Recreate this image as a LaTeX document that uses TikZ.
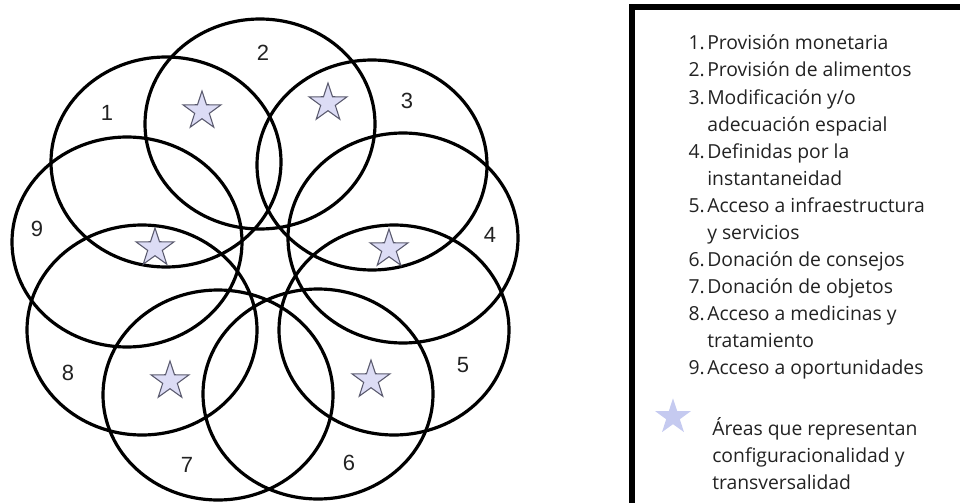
\documentclass[tikz,border=0pt]{standalone}
\usepackage{fontspec}
\setmainfont{Open Sans}
\newfontfamily\numfont{Liberation Sans}
\usetikzlibrary{shapes.geometric}
\definecolor{starfill}{HTML}{DCDCF5}
\definecolor{starline}{HTML}{5A5A6E}
\definecolor{keystar}{HTML}{C5CAF0}
\definecolor{ink}{HTML}{222222}
\begin{document}
\begin{tikzpicture}[
  x=0.75pt,y=-0.75pt,
  ring/.style={ellipse,draw,line width=2.4pt,minimum width=172.5pt,minimum height=157.5pt,inner sep=0pt},
  num/.style={font=\numfont\fontsize{16.5}{19}\selectfont,text=ink,inner sep=0pt},
  astar/.style={star,star points=5,star point ratio=2.6,minimum size=30pt,inner sep=0pt,
    fill=starfill,draw=starline,line width=0.8pt},
  keyno/.style={anchor=base east,font=\fontsize{14.5}{17}\selectfont,text=ink,inner sep=0pt},
  keytext/.style={anchor=base west,font=\fontsize{14.5}{17}\selectfont,text=ink,inner sep=0pt}
]
  \useasboundingbox (0,0) rectangle (960,503);
  % the nine rings
  \node[ring] (c1) at (166,162) {};
  \node[ring] (c2) at (260,124) {};
  \node[ring] (c3) at (372,165) {};
  \node[ring] (c4) at (403,238) {};
  \node[ring] (c5) at (394,330) {};
  \node[ring] (c6) at (318,394) {};
  \node[ring] (c7) at (218,395) {};
  \node[ring] (c8) at (142,330) {};
  \node[ring] (c9) at (127,242) {};
  % ring numbers
  \node[num] (n1) at (107,113) {1};
  \node[num] (n2) at (263,53)  {2};
  \node[num] (n3) at (407,101) {3};
  \node[num] (n4) at (490,235) {4};
  \node[num] (n5) at (463,365) {5};
  \node[num] (n6) at (349,463) {6};
  \node[num] (n7) at (187,465) {7};
  \node[num] (n8) at (68,373)  {8};
  \node[num] (n9) at (37,229)  {9};
  % stars
  \node[astar] (s1) at (202,111) {};
  \node[astar] (s2) at (328,103) {};
  \node[astar] (s3) at (155,248) {};
  \node[astar] (s4) at (389,249) {};
  \node[astar] (s5) at (170,381) {};
  \node[astar] (s6) at (371,380) {};
  % key
  \draw[line width=4.5pt] (632,503) -- (632,7) -- (960,7);
  \node[keyno] (k1n) at (705,50) {1.};
  \node[keytext] (k1) at (707,50) {Provisión monetaria};
  \node[keyno] (k2n) at (705,77) {2.};
  \node[keytext] (k2) at (707,77) {Provisión de alimentos};
  \node[keyno] (k3n) at (705,104) {3.};
  \node[keytext] (k3) at (707,104) {Modificación y/o};
  \node[keytext] (k3b) at (707,131) {adecuación espacial};
  \node[keyno] (k4n) at (705,158) {4.};
  \node[keytext] (k4) at (707,158) {Definidas por la};
  \node[keytext] (k4b) at (707,185) {instantaneidad};
  \node[keyno] (k5n) at (705,212) {5.};
  \node[keytext] (k5) at (707,212) {Acceso a infraestructura};
  \node[keytext] (k5b) at (707,239) {y servicios};
  \node[keyno] (k6n) at (705,266) {6.};
  \node[keytext] (k6) at (707,266) {Donación de consejos};
  \node[keyno] (k7n) at (705,293) {7.};
  \node[keytext] (k7) at (707,293) {Donación de objetos};
  \node[keyno] (k8n) at (705,320) {8.};
  \node[keytext] (k8) at (707,320) {Acceso a medicinas y};
  \node[keytext] (k8b) at (707,347) {tratamiento};
  \node[keyno] (k9n) at (705,374) {9.};
  \node[keytext] (k9) at (707,374) {Acceso a oportunidades};
  \node[star,star points=5,star point ratio=2.6,minimum size=28pt,inner sep=0pt,fill=keystar] (ks) at (673,417) {};
  \node[keytext] (ka) at (712,435) {Áreas que representan};
  \node[keytext] (kb) at (712,462) {configuracionalidad y};
  \node[keytext] (kc) at (712,489) {transversalidad};
\end{tikzpicture}
\end{document}
